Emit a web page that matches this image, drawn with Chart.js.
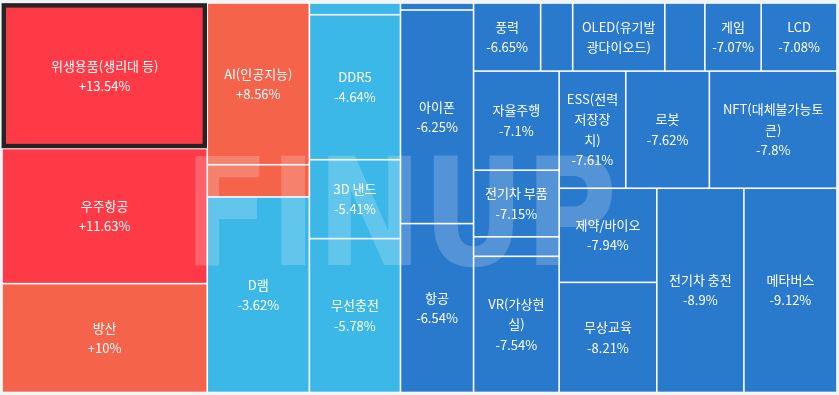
<!DOCTYPE html>
<html>
<head>
<meta charset="utf-8">
<style>
html,body{margin:0;padding:0;background:#f3f4f8;}
#wrap{width:839px;height:395px;position:relative;overflow:hidden;}
canvas{display:block;}
</style>
<script src="https://cdn.jsdelivr.net/npm/chart.js@4.4.1/dist/chart.umd.min.js"></script>
</head>
<body>
<div id="wrap"><canvas id="c" width="839" height="395"></canvas></div>
<script>
// ---- data (ordered by daily change, as in the reference) ----
const names = [
  '위생용품(생리대 등)', '우주항공', '방산', 'AI(인공지능)', '', 'D램', '', 'DDR5', '3D 낸드', '무선충전',
  '', '아이폰', '항공', '풍력', '', 'OLED(유기발광다이오드)', '', '게임', 'LCD', '자율주행',
  '전기차 부품', '', 'VR(가상현실)', 'ESS(전력저장장치)', '로봇', 'NFT(대체불가능토큰)', '제약/바이오', '무상교육', '전기차 충전', '메타버스'
];
const changes = [
  13.54, 11.63, 10, 8.56, 4.5, -3.62, -4.1, -4.64, -5.41, -5.78,
  -6.1, -6.25, -6.54, -6.65, -6.8, -6.95, -7.03, -7.07, -7.08, -7.1,
  -7.15, -7.4, -7.54, -7.61, -7.62, -7.8, -7.94, -8.21, -8.9, -9.12
];
// relative cell sizes
const sizes = [
  29786, 27675, 22284, 16473, 3284, 19921, 1065, 13177, 7171, 13987,
  511, 15571, 12315, 4556, 2176, 6256, 2720, 3828, 5148, 8465,
  5686, 1667, 11628, 7781, 9770, 14918, 9165, 10725, 17748, 18972
];
const highlightIndex = 0;
const watermarkText = 'FINUP';

// ---- style ----
const BG = '#f3f4f8';
const GAP_HALF = 0.8;
const FONT = '13px "Noto Sans CJK KR", "Noto Sans", sans-serif';
const LINE_H = 20.3;
const PAD = 15;
function colorFor(v) {
  if (v > 10) return '#ff3a47';
  if (v > 0) return '#f4634a';
  if (v > -6) return '#3bb8e8';
  return '#2979cc';
}
function fmt(v) { return (v > 0 ? '+' : '') + v + '%'; }

// ---- squarified layout (golden-ratio worst measure) ----
function squarify(items, W, H, ratio) {
  const out = [];
  const r = {x: 0, y: 0, w: W, h: H};
  let fixed = Math.min(r.w, r.h);
  let best = Infinity, row = [], rowArea = 0;
  function worst(row, area, L) {
    let mx = 0, mn = Infinity;
    row.forEach(it => { if (it.area) { mn = Math.min(mn, it.area); mx = Math.max(mx, it.area); } });
    const sq = area * area, f = L * L * ratio;
    return sq ? Math.max(f * mx / sq, sq / (f * mn)) : Infinity;
  }
  function position(row, area, L, flush) {
    const horiz = L === r.w;
    let last = horiz ? r.x : r.y;
    let other = L ? area / L : 0;
    const avail = horiz ? r.h : r.w;
    if (flush || other > avail) other = avail;
    row.forEach((it, i) => {
      const step = other ? it.area / other : 0;
      const remain = (horiz ? r.x + r.w : r.y + r.h) - last;
      const mod = (i === row.length - 1 || remain < step) ? remain : step;
      if (horiz) out.push({it, x: last, y: r.y, w: mod, h: other});
      else out.push({it, x: r.x, y: last, w: other, h: mod});
      last += mod;
    });
    if (horiz) { r.y += other; r.h -= other; } else { r.x += other; r.w -= other; }
  }
  for (let i = 0; i < items.length;) {
    const it = items[i];
    row.push(it); rowArea += it.area;
    const s = worst(row, rowArea, fixed);
    if (s <= best) { i++; best = s; }
    else {
      row.pop(); rowArea -= it.area;
      position(row, rowArea, fixed, false);
      fixed = Math.min(r.w, r.h);
      row = []; rowArea = 0; best = Infinity;
    }
  }
  if (row.length) position(row, rowArea, fixed, true);
  return out;
}

// ---- text wrapping: break between characters, latin runs kept whole,
// '(' sticks to the next piece, ')' and '%' stick to the previous piece ----
function tokenize(text) {
  const raw = [];
  let cur = '';
  for (const ch of text) {
    const c = ch.charCodeAt(0);
    const latin = c < 0x250 && /[A-Za-z0-9.+\-]/.test(ch);
    if (latin) { cur += ch; continue; }
    if (cur) { raw.push(cur); cur = ''; }
    raw.push(ch);
  }
  if (cur) raw.push(cur);
  const toks = [];
  let pendingOpen = '';
  raw.forEach(t => {
    if (t === '(') { pendingOpen += t; return; }
    if ((t === ')' || t === '%' || t === '/') && toks.length && !pendingOpen) { toks[toks.length - 1] += t; return; }
    toks.push(pendingOpen + t); pendingOpen = '';
  });
  if (pendingOpen) toks.push(pendingOpen);
  return toks;
}
function wrap(ctx, text, maxW) {
  const lines = [];
  let line = '';
  tokenize(text).forEach(t => {
    if (line && ctx.measureText(line + t).width > maxW) { lines.push(line.replace(/ +$/, '')); line = t.replace(/^ +/, ''); }
    else line += t;
  });
  if (line) lines.push(line);
  return lines;
}

const treemapPlugin = {
  id: 'treemapCells',
  beforeDraw(chart) {
    const c = chart.ctx;
    c.save(); c.fillStyle = BG; c.fillRect(0, 0, chart.width, chart.height); c.restore();
  },
  afterDatasetsDraw(chart) {
    const ctx = chart.ctx, xs = chart.scales.x, ys = chart.scales.y;
    const W = chart.chartArea.right - chart.chartArea.left;
    const H = chart.chartArea.bottom - chart.chartArea.top;
    const total = sizes.reduce((a, b) => a + b, 0);
    const items = sizes.map((s, i) => ({i, area: s / total * W * H}));
    const cells = squarify(items, W, H, 0.5 * (1 + Math.sqrt(5)));
    // convert layout units -> scale values -> pixels
    const rects = cells.map(cl => {
      const x0 = xs.getPixelForValue(cl.x / W), x1 = xs.getPixelForValue((cl.x + cl.w) / W);
      const y0 = ys.getPixelForValue(cl.y / H), y1 = ys.getPixelForValue((cl.y + cl.h) / H);
      return {i: cl.it.i, x0, x1, y0, y1};
    });
    ctx.save();
    ctx.fillStyle = '#ffffff';
    ctx.fillRect(xs.left, ys.top, xs.right - xs.left, ys.bottom - ys.top);
    rects.forEach(r => {
      ctx.fillStyle = colorFor(changes[r.i]);
      ctx.fillRect(r.x0 + GAP_HALF, r.y0 + GAP_HALF, r.x1 - r.x0 - 2 * GAP_HALF, r.y1 - r.y0 - 2 * GAP_HALF);
    });
    // highlighted cell border
    rects.filter(r => r.i === highlightIndex).forEach(r => {
      const lw = 4.4;
      ctx.strokeStyle = '#222426';
      ctx.lineWidth = lw;
      ctx.strokeRect(r.x0 + lw / 2 - 0.4, r.y0 + lw / 2 + 0.2, r.x1 - r.x0 - lw + 0.2, r.y1 - r.y0 - lw - 0.4);
    });
    // watermark
    ctx.font = 'bold 100px "DejaVu Sans", sans-serif';
    const m = ctx.measureText(watermarkText);
    const inkW = m.actualBoundingBoxLeft + m.actualBoundingBoxRight;
    const inkH = m.actualBoundingBoxAscent;
    const bx = 195, by = 154, bw = 418, bh = 111;
    const sx = bw / inkW, sy = bh / inkH;
    ctx.save();
    ctx.translate(bx + m.actualBoundingBoxLeft * sx, by + inkH * sy);
    ctx.scale(sx, sy);
    ctx.fillStyle = 'rgba(255,255,255,0.2)';
    ctx.textAlign = 'left'; ctx.textBaseline = 'alphabetic';
    ctx.fillText(watermarkText, 0, 0);
    ctx.restore();
    // labels
    ctx.font = FONT;
    ctx.fillStyle = '#ffffff';
    ctx.textAlign = 'center';
    ctx.textBaseline = 'middle';
    rects.forEach(r => {
      const name = names[r.i];
      if (!name) return;
      const w = r.x1 - r.x0, h = r.y1 - r.y0;
      const maxW = w - PAD, maxH = h - PAD;
      let lines = wrap(ctx, name, maxW).concat(wrap(ctx, fmt(changes[r.i]), maxW));
      const fit = Math.floor(maxH / LINE_H);
      lines = lines.slice(0, Math.max(0, fit));
      const cx = (r.x0 + r.x1) / 2, cy = (r.y0 + r.y1) / 2;
      const top = cy - lines.length * LINE_H / 2;
      lines.forEach((ln, k) => ctx.fillText(ln, cx, top + LINE_H * (k + 0.5)));
    });
    ctx.restore();
  }
};

new Chart(document.getElementById('c'), {
  type: 'scatter',
  data: { datasets: [{ data: [] }] },
  options: {
    responsive: false,
    animation: false,
    devicePixelRatio: 1,
    layout: { padding: { left: 2, top: 3, right: 2, bottom: 2.5 } },
    plugins: { legend: { display: false }, tooltip: { enabled: false } },
    scales: {
      x: { type: 'linear', display: false, min: 0, max: 1 },
      y: { type: 'linear', display: false, min: 0, max: 1, reverse: true }
    }
  },
  plugins: [treemapPlugin]
});
</script>
</body>
</html>
